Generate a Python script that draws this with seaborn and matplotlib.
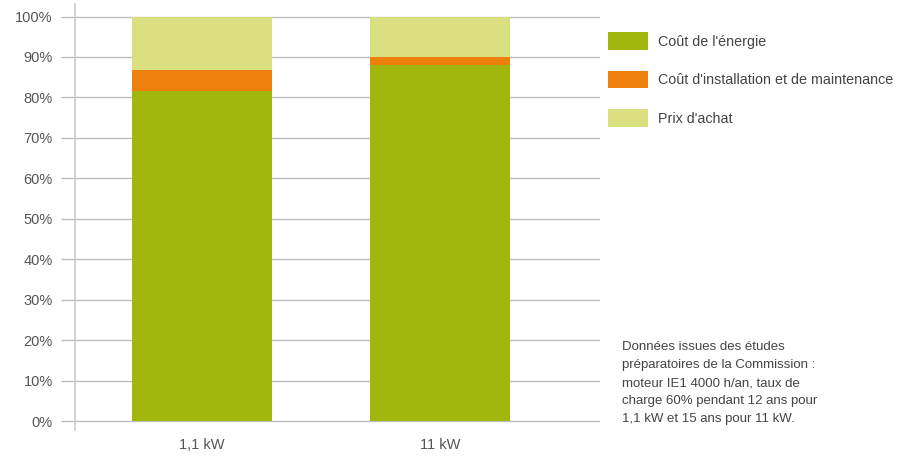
import matplotlib
matplotlib.use("Agg")
import matplotlib.pyplot as plt
from matplotlib.patches import Patch
import seaborn as sns
import pandas as pd

categories = ["1,1 kW", "11 kW"]
energy = [81.6, 87.9]
install = [5.1, 2.1]
purchase = [13.3, 10.0]
series_names = ["Coût de l'énergie", "Coût d'installation et de maintenance", "Prix d'achat"]
colors = ["#A2B70E", "#EE810D", "#DAE07F"]
yticks = [0, 10, 20, 30, 40, 50, 60, 70, 80, 90, 100]
note = ("Données issues des études\npréparatoires de la Commission :\n"
        "moteur IE1 4000 h/an, taux de\ncharge 60% pendant 12 ans pour\n"
        "1,1 kW et 15 ans pour 11 kW.")

sns.set_style("white")
plt.rcParams["font.family"] = ["Liberation Sans", "DejaVu Sans"]

df = pd.DataFrame({"cat": categories,
                   "energy": energy,
                   "install": install,
                   "purchase": purchase})
df["lvl1"] = df["energy"]
df["lvl2"] = df["energy"] + df["install"]
df["lvl3"] = df["lvl2"] + df["purchase"]

fig = plt.figure(figsize=(9.11, 4.57), dpi=100)
ax = fig.add_axes([75/911, 27/457, 525/911, 426/457])

for col, c in zip(["lvl3", "lvl2", "lvl1"], colors[::-1]):
    sns.barplot(data=df, x="cat", y=col, color=c, width=0.588, ax=ax,
                saturation=1, linewidth=0, zorder=3)

ax.set_xlim(-0.534, 1.672)
ax.set_ylim(-2.22, 103.1)
ax.set_yticks(yticks)
ax.set_yticklabels([f"{v}%" for v in yticks], fontsize=10.5, color="#555555")
ax.yaxis.grid(True, color="#BDBDBD", linewidth=1.0, zorder=0)
ax.set_axisbelow(True)
ax.tick_params(axis="y", length=10, width=1.0, color="#BDBDBD", pad=6, left=True)
ax.tick_params(axis="x", length=0, pad=6, labelsize=10.5, labelcolor="#555555")
ax.set_xlabel("")
ax.set_ylabel("")
for s in ["top", "right", "bottom"]:
    ax.spines[s].set_visible(False)
ax.spines["left"].set_color("#CCCCCC")
ax.spines["left"].set_linewidth(1.2)

handles = [Patch(facecolor=c, edgecolor="none") for c in colors]
fig.legend(handles, series_names, loc="upper left", bbox_to_anchor=(595/911, 1 - 19/457),
           frameon=False, fontsize=10.3, handlelength=2.8, handleheight=1.55,
           labelspacing=1.45, handletextpad=0.7, labelcolor="#444444")

fig.text(622/911, 1 - 341/457, note, ha="left", va="top", fontsize=9.5,
         color="#444444", linespacing=1.68)

fig.savefig("out.png", dpi=100)
